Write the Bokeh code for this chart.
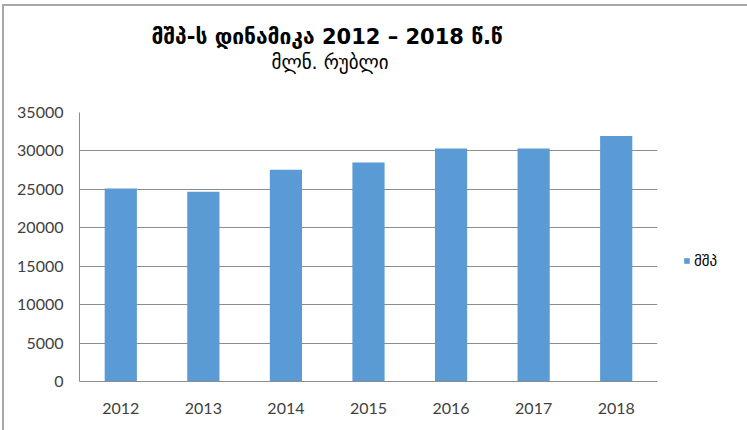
from bokeh.plotting import figure
from bokeh.models import Title, Legend, LegendItem, ColumnDataSource, Range1d, FixedTicker
from bokeh.embed import file_html
from bokeh.resources import INLINE

years = ["2012", "2013", "2014", "2015", "2016", "2017", "2018"]
gdp = [25100, 24700, 27550, 28500, 30300, 30300, 31950]
y_ticks = [0, 5000, 10000, 15000, 20000, 25000, 30000, 35000]
title_text = "მშპ-ს დინამიკა 2012 – 2018 წ.წ"
subtitle_text = "მლნ. რუბლი"
series_name = "მშპ"

src = ColumnDataSource(dict(x=years, top=gdp))

p = figure(frame_width=578, frame_height=269, x_range=years, y_range=Range1d(0, 35000),
           output_backend="svg", toolbar_location=None,
           min_border_left=75, min_border_right=88, min_border_top=106, min_border_bottom=49)
p.x_range.range_padding = 0
p.outline_line_color = None
p.background_fill_color = "white"
p.border_fill_color = "white"

r = p.vbar(x="x", top="top", width=0.39, source=src, fill_color="#5B9BD5", line_color=None)

p.xgrid.grid_line_color = None
p.ygrid.grid_line_color = "#8c8c8c"
p.ygrid.grid_line_width = 1
p.yaxis.ticker = FixedTicker(ticks=y_ticks)

for ax in (p.xaxis[0], p.yaxis[0]):
    ax.axis_line_color = "#8c8c8c"
    ax.major_tick_line_color = None
    ax.minor_tick_line_color = None
    ax.major_label_text_font = "Lato"
    ax.major_label_text_font_size = "16px"
    ax.major_label_text_color = "#404040"
p.yaxis.major_label_standoff = 10
p.xaxis.major_label_standoff = 15

# spacer between plot area and subtitle
p.add_layout(Title(text=" ", standoff=26, text_font_size="10px"), "above")
p.add_layout(Title(text=subtitle_text, align="left", offset=192, standoff=0,
                   vertical_align="middle", text_font="DejaVu Sans", text_font_style="normal",
                   text_font_size="19px", text_color="#000000"), "above")
p.add_layout(Title(text=title_text, align="left", offset=72, standoff=0,
                   vertical_align="middle", text_font="DejaVu Sans", text_font_style="bold",
                   text_font_size="21px", text_color="#000000"), "above")

legend = Legend(items=[LegendItem(label=series_name, renderers=[r])], location="left",
                padding=0, margin=26, border_line_color=None, background_fill_alpha=0,
                glyph_width=7, glyph_height=7, label_height=14, label_standoff=4,
                label_text_font="DejaVu Sans", label_text_font_size="15px",
                label_text_color="#000000",
                title=" ", title_text_font_size="14px", title_standoff=12)
p.add_layout(legend, "right")

p.styles = {"margin-left": "2px", "margin-top": "4px",
            "border-top": "2px solid #a8a8a8", "border-left": "2px solid #a8a8a8"}

open("out.html", "w").write(file_html(p, INLINE))
